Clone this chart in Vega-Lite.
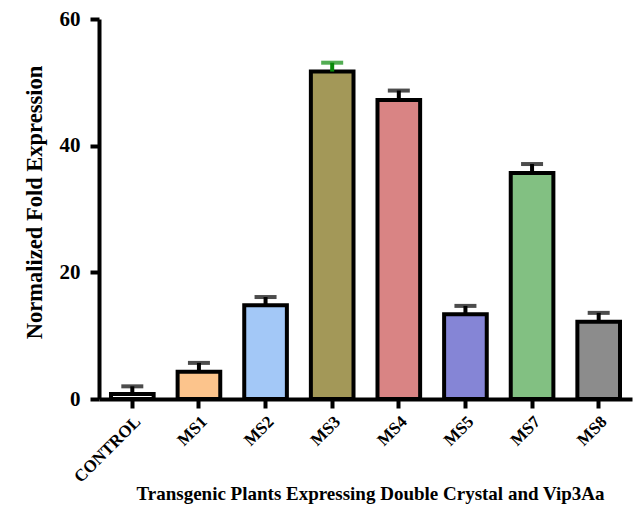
{
  "$schema": "https://vega.github.io/schema/vega-lite/v6.json",
  "autosize": "none",
  "padding": {"left": 99, "top": 19, "right": 3, "bottom": 108},
  "width": 533,
  "height": 380,
  "background": "white",
  "data": {"values": [
    {"group": "CONTROL", "value": 0.8, "upper": 2.0},
    {"group": "MS1", "value": 4.3, "upper": 5.7},
    {"group": "MS2", "value": 14.8, "upper": 16.1},
    {"group": "MS3", "value": 51.7, "upper": 53.1},
    {"group": "MS4", "value": 47.2, "upper": 48.7},
    {"group": "MS5", "value": 13.4, "upper": 14.7},
    {"group": "MS7", "value": 35.7, "upper": 37.1},
    {"group": "MS8", "value": 12.2, "upper": 13.6}
  ]},
  "config": {
    "view": {"stroke": null},
    "font": "Liberation Serif",
    "axis": {"grid": false, "domainColor": "black", "tickColor": "black", "labelColor": "black", "titleColor": "black", "labelFont": "Liberation Serif", "titleFont": "Liberation Serif", "labelFontWeight": "bold", "titleFontWeight": "bold"}
  },
  "encoding": {
    "x": {"field": "group", "type": "nominal", "sort": null,
      "scale": {"paddingInner": 0.36, "paddingOuter": 0.18},
      "axis": {"title": "Transgenic Plants Expressing Double Crystal and Vip3Aa", "titleFontSize": 19, "titleBaseline": "alphabetic", "titleY": 100, "titleX": 271,
        "labelAngle": -45, "labelFontSize": 17, "labelPadding": 5, "domainWidth": 4, "tickWidth": 4, "tickSize": 9}}
  },
  "layer": [
    {
      "mark": {"type": "bar", "stroke": "black", "strokeWidth": 4},
      "encoding": {
        "y": {"field": "value", "type": "quantitative",
          "scale": {"domain": [0, 60], "nice": false},
          "axis": {"title": "Normalized Fold Expression", "titleFontSize": 22.5, "titlePadding": 13, "titleY": 183,
            "values": [0, 20, 40, 60], "labelFontSize": 21, "labelPadding": 10, "domainWidth": 4, "tickWidth": 4, "tickSize": 9}},
        "fill": {"field": "group", "type": "nominal", "legend": null,
          "scale": {"domain": ["CONTROL", "MS1", "MS2", "MS3", "MS4", "MS5", "MS7", "MS8"],
            "range": ["#ffffff", "#fcc48c", "#a3c8f7", "#a39858", "#d98484", "#8585d6", "#82c082", "#8c8c8c"]}}
      }
    },
    {
      "mark": {"type": "rule", "strokeWidth": 4},
      "encoding": {
        "y": {"field": "value", "type": "quantitative"},
        "y2": {"field": "upper"},
        "color": {"condition": {"test": "datum.group === 'MS3'", "value": "#0a8a0a"}, "value": "black"}
      }
    },
    {
      "mark": {"type": "tick", "thickness": 4, "size": 22},
      "encoding": {
        "y": {"field": "upper", "type": "quantitative"},
        "color": {"condition": {"test": "datum.group === 'MS3'", "value": "#0a8a0a"}, "value": "black"}
      }
    }
  ]
}
